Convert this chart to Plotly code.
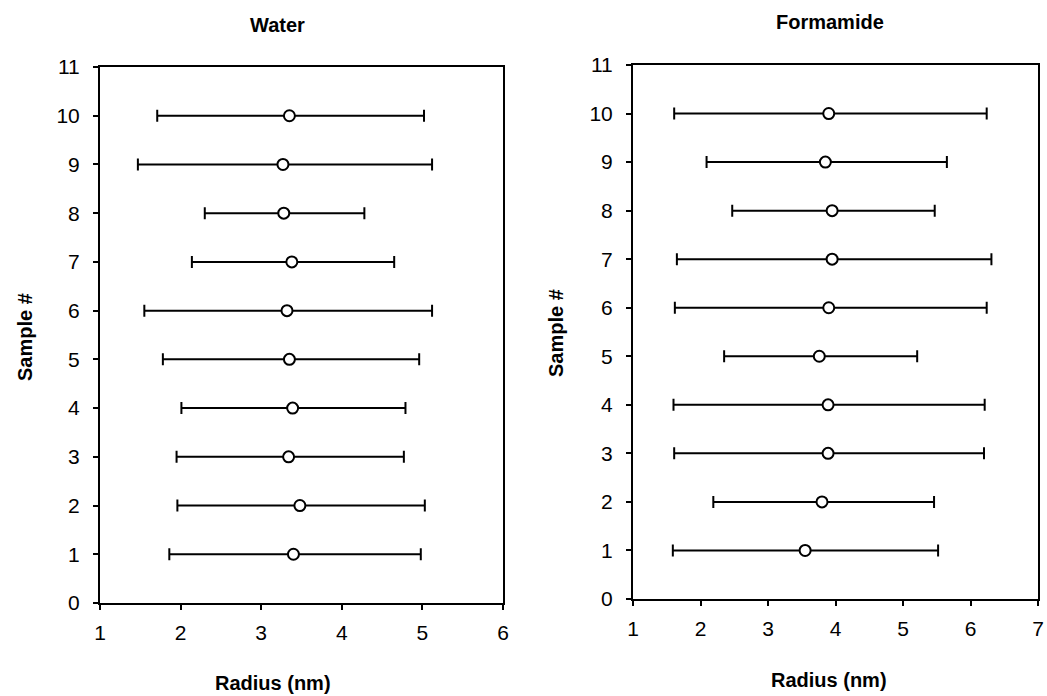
import plotly.graph_objects as go

samples = [1, 2, 3, 4, 5, 6, 7, 8, 9, 10]

# Water: mean radius and lower / upper ends of bars (nm)
water_mean = [3.40, 3.48, 3.34, 3.39, 3.35, 3.32, 3.38, 3.28, 3.27, 3.35]
water_low = [1.86, 1.96, 1.95, 2.01, 1.78, 1.55, 2.14, 2.30, 1.47, 1.71]
water_high = [4.98, 5.03, 4.77, 4.79, 4.96, 5.12, 4.65, 4.28, 5.12, 5.02]

# Formamide
form_mean = [3.55, 3.80, 3.89, 3.89, 3.76, 3.90, 3.95, 3.95, 3.85, 3.90]
form_low = [1.59, 2.19, 1.61, 1.60, 2.35, 1.62, 1.65, 2.47, 2.09, 1.61]
form_high = [5.52, 5.46, 6.20, 6.21, 5.21, 6.24, 6.31, 5.47, 5.65, 6.24]

x_ticks_water = [1, 2, 3, 4, 5, 6]
x_ticks_form = [1, 2, 3, 4, 5, 6, 7]
y_ticks = list(range(0, 12))

FONT = "Liberation Sans, Arial, sans-serif"
W, H = 1047, 696


def fx(px):
    return px / W


def fy(py):
    return 1 - py / H


def trace(mean, low, high, xa, ya):
    plus = [h - m for h, m in zip(high, mean)]
    minus = [m - l for m, l in zip(mean, low)]
    return go.Scatter(
        x=mean, y=samples, xaxis=xa, yaxis=ya, mode="markers",
        marker=dict(symbol="circle", size=11, color="white",
                    line=dict(color="black", width=2)),
        error_x=dict(type="data", symmetric=False, array=plus, arrayminus=minus,
                     color="black", thickness=2, width=6),
        showlegend=False, cliponaxis=False,
    )


fig = go.Figure()
fig.add_trace(trace(water_mean, water_low, water_high, "x", "y"))
fig.add_trace(trace(form_mean, form_low, form_high, "x2", "y2"))

axis_common = dict(
    showline=True, linecolor="black", linewidth=2, mirror=True,
    ticks="outside", ticklen=5, tickwidth=1.5, tickcolor="black",
    showgrid=False, zeroline=False, automargin=False,
    tickfont=dict(family=FONT, size=21, color="black"),
)

fig.update_layout(
    width=W, height=H, margin=dict(l=0, r=0, t=0, b=0, autoexpand=False),
    paper_bgcolor="white", plot_bgcolor="white",
    font=dict(family=FONT, color="black"),
    xaxis=dict(axis_common, domain=[fx(100), fx(503)], range=[1, 6], tickvals=x_ticks_water,
               anchor="y", ticklabelstandoff=5),
    yaxis=dict(axis_common, domain=[fy(603), fy(67)], range=[0, 11], tickvals=y_ticks,
               anchor="x", ticklabelstandoff=9),
    xaxis2=dict(axis_common, domain=[fx(633), fx(1038)], range=[1, 7], tickvals=x_ticks_form,
                anchor="y2", ticklabelstandoff=5),
    yaxis2=dict(axis_common, domain=[fy(599), fy(65)], range=[0, 11], tickvals=y_ticks,
                anchor="x2", ticklabelstandoff=9),
)

tf = dict(family=FONT, size=20, color="black")


def ann(text, x, y, angle=0):
    fig.add_annotation(text="<b>%s</b>" % text, x=fx(x), y=fy(y), xref="paper", yref="paper",
                       showarrow=False, font=tf, textangle=angle,
                       xanchor="center", yanchor="middle")


ann("Water", 277, 25)
ann("Formamide", 830, 22)
ann("Radius (nm)", 273, 683)
ann("Radius (nm)", 829, 680)
ann("Sample #", 25, 337, -90)
ann("Sample #", 556, 333, -90)

fig.write_html(
    "out.html",
    config={"displayModeBar": False},
    post_script="document.body.style.margin='0';document.body.style.overflow='hidden';",
)
